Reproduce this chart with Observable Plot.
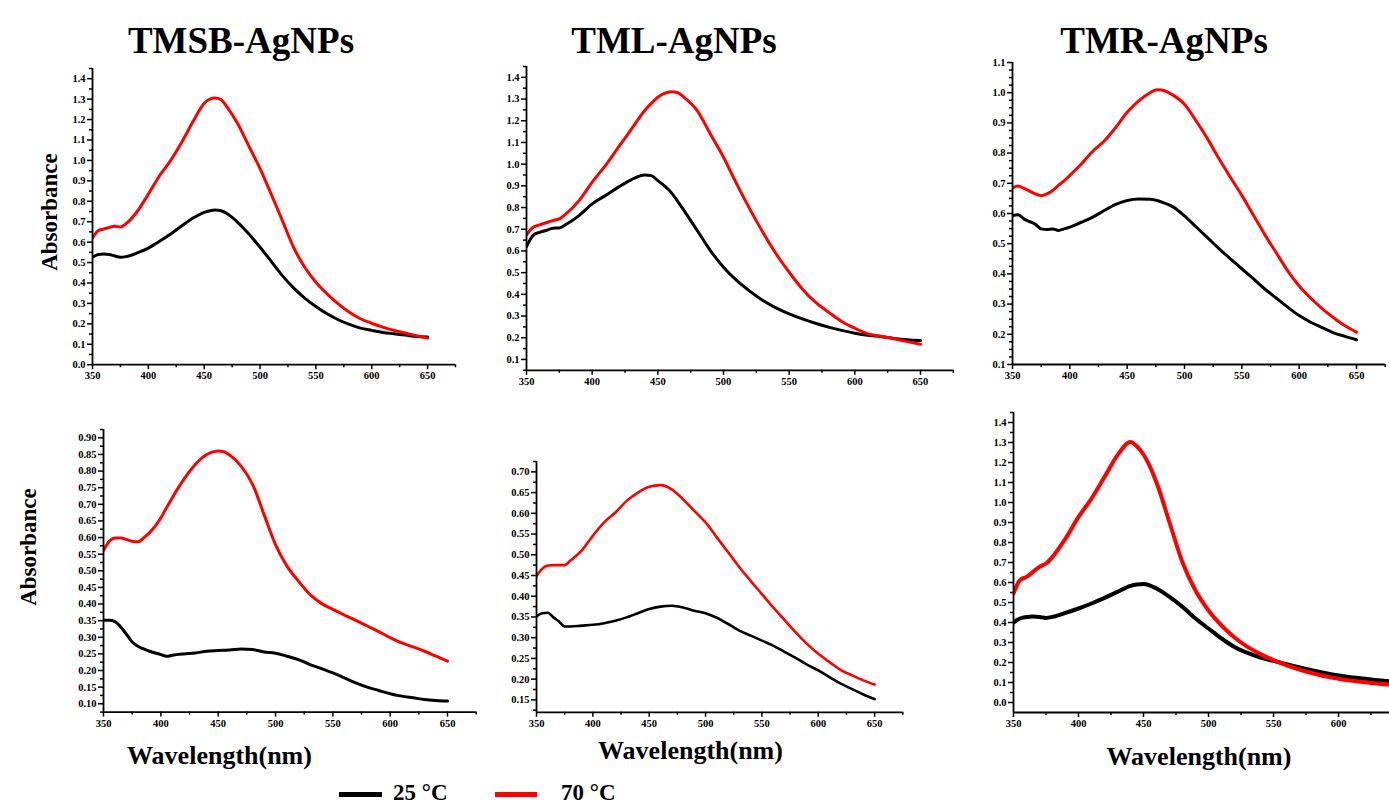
<!DOCTYPE html>
<html><head><meta charset="utf-8">
<script src="https://cdn.jsdelivr.net/npm/d3@7"></script>
<script src="https://cdn.jsdelivr.net/npm/@observablehq/plot@0.6"></script>
<style>
html,body{margin:0;padding:0;background:#fff;}
body{width:1389px;height:805px;overflow:hidden;position:relative;font-family:"Liberation Serif","Times New Roman",serif;}
.t{position:absolute;white-space:nowrap;line-height:1;font-weight:bold;color:#000;}
.title{font-size:37px;transform:translateX(-50%);}
.ylab{font-size:23px;transform:translate(-50%,-50%) rotate(-90deg);}
.xlab{font-size:26px;transform:translateX(-50%);}
.leg{font-size:23px;}
.sw{position:absolute;height:5px;}
</style></head><body>
<script>
// ---------- data ----------
const seriesNames = ["25 °C", "70 °C"];
const panelTitles = ["TMSB-AgNPs", "TML-AgNPs", "TMR-AgNPs"];

const tmsbTopWl = [350,355,360,365,370,375,380,390,400,410,420,430,440,450,455,460,465,470,480,490,500,510,520,530,540,550,560,570,580,590,600,610,620,630,640,650];
const tmsbTop25 = [.526,.539,.542,.539,.532,.526,.529,.547,.571,.604,.64,.68,.718,.746,.754,.757,.754,.741,.697,.64,.575,.506,.436,.376,.326,.285,.249,.22,.197,.179,.168,.158,.151,.145,.138,.135];
const tmsbTop70 = [.62,.656,.664,.672,.678,.674,.69,.75,.835,.925,1.0,1.09,1.19,1.28,1.30,1.305,1.298,1.265,1.18,1.07,.96,.835,.705,.575,.477,.404,.347,.298,.257,.225,.203,.184,.168,.155,.142,.13];

const tmlTopWl = [350,355,360,365,370,375,380,390,400,410,420,430,440,445,450,455,460,465,470,480,490,500,510,520,530,540,550,560,570,580,590,600,610,620,630,640,650];
const tmlTop25 = [.62,.671,.686,.694,.705,.706,.722,.763,.817,.855,.894,.929,.95,.947,.924,.9,.871,.83,.786,.694,.602,.525,.464,.415,.372,.338,.31,.287,.267,.249,.234,.221,.211,.205,.197,.191,.187];
const tmlTop70 = [.674,.709,.72,.73,.74,.748,.771,.832,.917,.993,1.078,1.162,1.247,1.28,1.308,1.326,1.334,1.33,1.308,1.247,1.139,1.032,.909,.794,.686,.587,.502,.425,.364,.318,.275,.244,.218,.207,.195,.182,.17];

const tmrTopWl = [350,355,360,365,370,375,380,385,390,395,400,410,420,430,440,450,460,470,476,480,490,500,510,520,530,540,550,560,570,580,590,600,610,620,630,640,650];
const tmrTop25 = [.593,.596,.582,.573,.564,.549,.547,.549,.544,.549,.555,.571,.588,.61,.63,.643,.648,.647,.643,.638,.622,.592,.556,.52,.484,.45,.417,.384,.35,.32,.29,.262,.24,.222,.205,.193,.182];
const tmrTop70 = [.684,.691,.683,.674,.665,.659,.665,.676,.693,.708,.726,.764,.806,.84,.885,.935,.973,1.0,1.01,1.009,.992,.962,.907,.848,.782,.72,.66,.595,.53,.47,.41,.36,.32,.285,.255,.228,.207];

const tmsbBotWl = [350,355,360,365,370,375,380,385,390,400,405,410,420,430,440,450,455,460,470,480,490,500,510,520,530,540,550,560,570,580,590,600,610,620,630,640,650];
const tmsbBot25 = [.351,.351,.347,.331,.309,.286,.273,.265,.258,.248,.243,.246,.25,.253,.258,.26,.261,.262,.265,.263,.256,.252,.243,.233,.218,.206,.193,.178,.163,.15,.14,.13,.123,.118,.113,.11,.108];
const tmsbBot70 = [.561,.589,.599,.599,.594,.589,.587,.599,.614,.659,.69,.72,.775,.82,.85,.86,.858,.848,.815,.76,.669,.579,.514,.469,.429,.402,.384,.367,.351,.334,.317,.299,.283,.271,.258,.243,.228];

const tmlBotWl = [350,355,360,365,370,375,380,390,400,410,420,430,440,450,460,470,480,490,500,510,520,530,540,550,560,570,580,590,600,610,620,630,640,650];
const tmlBot25 = [.351,.359,.36,.349,.339,.327,.327,.329,.331,.335,.341,.349,.359,.369,.375,.377,.373,.365,.359,.348,.333,.317,.305,.293,.281,.266,.251,.235,.221,.205,.189,.176,.163,.152];
const tmlBot70 = [.449,.466,.474,.475,.475,.475,.486,.51,.546,.578,.602,.63,.65,.664,.668,.658,.634,.606,.578,.542,.506,.47,.437,.405,.373,.343,.313,.285,.261,.241,.222,.209,.197,.187];

const tmrBotWl = [350,355,360,365,370,375,380,390,400,410,420,430,440,445,450,460,470,480,490,500,510,520,530,540,550,575,600,625,650];
const tmrBot25 = [.40,.42,.428,.43,.428,.423,.428,.448,.47,.495,.523,.553,.583,.59,.592,.57,.528,.478,.42,.37,.32,.278,.248,.225,.208,.168,.135,.115,.10];
const tmrBot70 = [.545,.612,.628,.653,.678,.695,.728,.82,.928,1.02,1.128,1.237,1.303,1.28,1.24,1.10,.90,.70,.56,.46,.385,.325,.278,.242,.212,.155,.118,.098,.085];

// tick values
const xMajor = [350,400,450,500,550,600,650];
const xMinor = [375,425,475,525,575,625,675];
const xMajorClip = [350,400,450,500,550,600];
const xMinorClip = [375,425,475,525,575,625];
const yMajor0to14 = [0,0.1,0.2,0.3,0.4,0.5,0.6,0.7,0.8,0.9,1.0,1.1,1.2,1.3,1.4];
const yMinor0to14 = [0.05,0.15,0.25,0.35,0.45,0.55,0.65,0.75,0.85,0.95,1.05,1.15,1.25,1.35,1.45];
const yMajor01to14 = [0.1,0.2,0.3,0.4,0.5,0.6,0.7,0.8,0.9,1.0,1.1,1.2,1.3,1.4];
const yMinor01to14 = [0.05,0.15,0.25,0.35,0.45,0.55,0.65,0.75,0.85,0.95,1.05,1.15,1.25,1.35,1.45];
const yMajor01to11 = [0.1,0.2,0.3,0.4,0.5,0.6,0.7,0.8,0.9,1.0,1.1];
const yMinor01to11 = [0.125,0.15,0.175,0.225,0.25,0.275,0.325,0.35,0.375,0.425,0.45,0.475,0.525,0.55,0.575,0.625,0.65,0.675,0.725,0.75,0.775,0.825,0.85,0.875,0.925,0.95,0.975,1.025,1.05,1.075];
const yMajor010to090 = [0.10,0.15,0.20,0.25,0.30,0.35,0.40,0.45,0.50,0.55,0.60,0.65,0.70,0.75,0.80,0.85,0.90];
const yMinor010to090 = [0.075,0.125,0.175,0.225,0.275,0.325,0.375,0.425,0.475,0.525,0.575,0.625,0.675,0.725,0.775,0.825,0.875,0.925];
const yMajor015to070 = [0.15,0.20,0.25,0.30,0.35,0.40,0.45,0.50,0.55,0.60,0.65,0.70];
const yMinor015to070 = [0.125,0.175,0.225,0.275,0.325,0.375,0.425,0.475,0.525,0.575,0.625,0.675,0.725];

// ---------- drawing ----------
function panel(c) {
  const ml = 50, mt = 8, mb = 24, mr = c.mr ?? 12;
  const d25 = c.wl.map((w, i) => ({w, a: c.s25[i], s: seriesNames[0]}));
  const d70 = c.wl.map((w, i) => ({w, a: c.s70[i], s: seriesNames[1]}));
  const fmt = d3.format(c.fmt);
  const chart = Plot.plot({
    width: c.fr - c.fl + ml + mr,
    height: c.fb - c.ft + mt + mb,
    marginLeft: ml, marginRight: mr, marginTop: mt, marginBottom: mb,
    x: {domain: c.xDomain},
    y: {domain: c.yDomain},
    style: {fontFamily: '"Liberation Serif","Times New Roman",serif', fontSize: "10.5px", fontWeight: "bold", background: "transparent", color: "#000", overflow: "visible"},
    marks: [
      Plot.axisX(c.xMinor, {tickSize: 3, fill: "none", label: null, strokeWidth: 1.5}),
      Plot.axisX(c.xMajor, {tickSize: 5, tickPadding: 2, label: null, strokeWidth: 1.5, tickFormat: d3.format("d")}),
      Plot.axisY(c.yMinor, {tickSize: 3, fill: "none", label: null, strokeWidth: 1.5}),
      Plot.axisY(c.yMajor, {tickSize: 5, tickPadding: 2, label: null, strokeWidth: 1.5, tickFormat: fmt}),
      Plot.line(d25, {x: "w", y: "a", stroke: "#000", strokeWidth: c.sw, curve: "monotone-x", clip: true}),
      Plot.line(d70, {x: "w", y: "a", stroke: "#ff0000", strokeWidth: c.sw, curve: "monotone-x", clip: true}),
      Plot.ruleX([c.xDomain[0]], {stroke: "#000", strokeWidth: 1.8}),
      Plot.ruleY([c.yDomain[0]], {stroke: "#000", strokeWidth: 1.8})
    ]
  });
  chart.style.position = "absolute";
  chart.style.left = (c.fl - ml) + "px";
  chart.style.top = (c.ft - mt) + "px";
  document.body.appendChild(chart);
}

panel({fl: 92, fr: 455, ft: 67.8, fb: 364, xDomain: [350, 675], yDomain: [0, 1.45],
  xMajor, xMinor, yMajor: yMajor0to14, yMinor: yMinor0to14, fmt: ".1f",
  wl: tmsbTopWl, s25: tmsbTop25, s70: tmsbTop70, sw: 3});
panel({fl: 526, fr: 952.8, ft: 66, fb: 369.8, xDomain: [350, 675], yDomain: [0.05, 1.45],
  xMajor, xMinor, yMajor: yMajor01to14, yMinor: yMinor01to14, fmt: ".1f",
  wl: tmlTopWl, s25: tmlTop25, s70: tmlTop70, sw: 3});
panel({fl: 1012, fr: 1384.7, ft: 62, fb: 364, xDomain: [350, 675], yDomain: [0.1, 1.1], mr: 4,
  xMajor, xMinor, yMajor: yMajor01to11, yMinor: yMinor01to11, fmt: ".1f",
  wl: tmrTopWl, s25: tmrTop25, s70: tmrTop70, sw: 3});
panel({fl: 103, fr: 475.7, ft: 428.7, fb: 711.3, xDomain: [350, 675], yDomain: [0.075, 0.925],
  xMajor, xMinor, yMajor: yMajor010to090, yMinor: yMinor010to090, fmt: ".2f",
  wl: tmsbBotWl, s25: tmsbBot25, s70: tmsbBot70, sw: 3});
panel({fl: 536, fr: 902.3, ft: 460.6, fb: 711.4, xDomain: [350, 675], yDomain: [0.12, 0.725],
  xMajor, xMinor, yMajor: yMajor015to070, yMinor: yMinor015to070, fmt: ".2f",
  wl: tmlBotWl, s25: tmlBot25, s70: tmlBot70, sw: 2.6});
panel({fl: 1013, fr: 1389, ft: 412, fb: 712, xDomain: [350, 639.2], yDomain: [-0.05, 1.45], mr: 0,
  xMajor: xMajorClip, xMinor: xMinorClip, yMajor: yMajor0to14, yMinor: yMinor0to14, fmt: ".1f",
  wl: tmrBotWl, s25: tmrBot25, s70: tmrBot70, sw: 4});

// ---------- text ----------
function addText(cls, text, left, top) {
  const el = document.createElement("div");
  el.className = "t " + cls;
  el.textContent = text;
  el.style.left = left + "px";
  el.style.top = top + "px";
  document.body.appendChild(el);
  return el;
}
const asc = 0.8375;
addText("title", panelTitles[0], 241, 53 - asc * 37);
addText("title", panelTitles[1], 674, 53 - asc * 37);
addText("title", panelTitles[2], 1164, 53 - asc * 37);
addText("ylab", "Absorbance", 49, 212);
addText("ylab", "Absorbance", 28, 547);
addText("xlab", "Wavelength(nm)", 219.5, 765 - asc * 26);
addText("xlab", "Wavelength(nm)", 690.5, 760 - asc * 26);
addText("xlab", "Wavelength(nm)", 1199, 766 - asc * 26);

// legend
function swatch(color, left, width) {
  const el = document.createElement("div");
  el.className = "sw";
  el.style.background = color;
  el.style.left = left + "px";
  el.style.top = "792px";
  el.style.width = width + "px";
  document.body.appendChild(el);
}
swatch("#000", 339, 43);
addText("leg", seriesNames[0], 393, 781);
swatch("#ff0000", 495, 42);
addText("leg", seriesNames[1], 561, 781);
</script>
</body></html>
